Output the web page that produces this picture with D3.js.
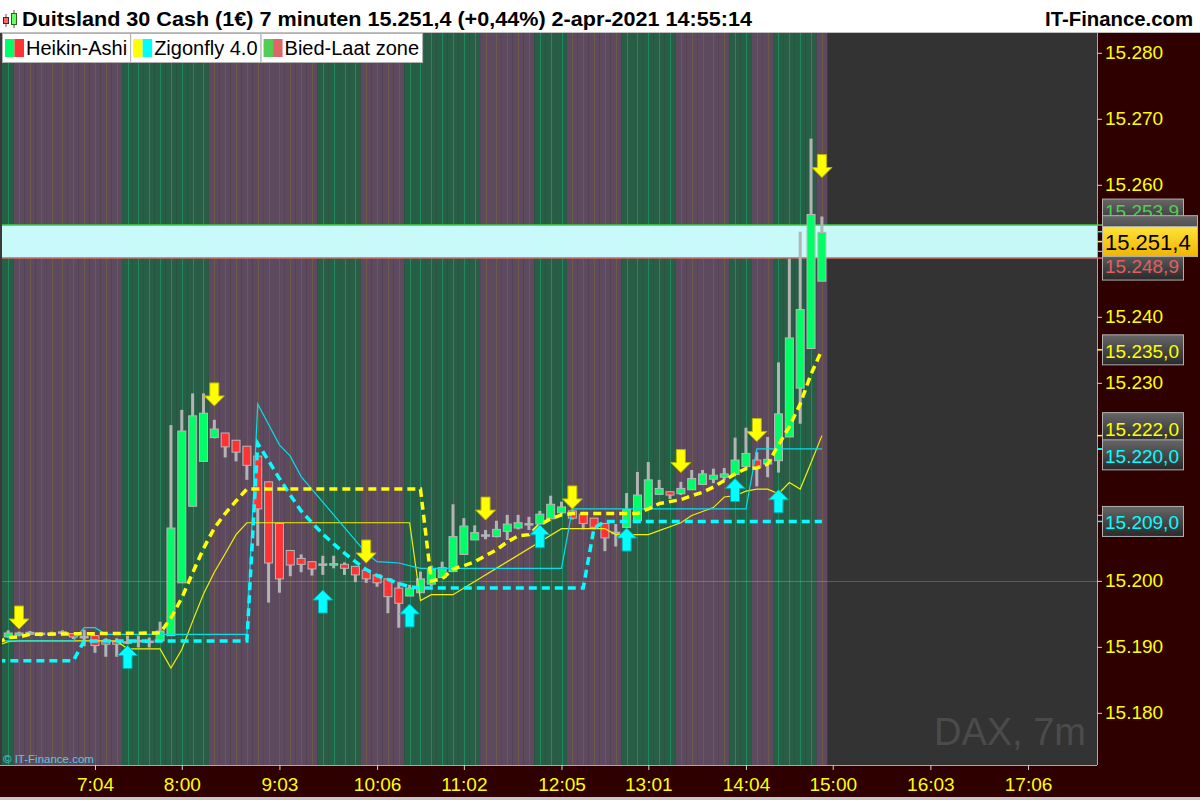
<!DOCTYPE html>
<html><head><meta charset="utf-8">
<script src="https://cdn.jsdelivr.net/npm/d3@7"></script>
<style>html,body{margin:0;padding:0;background:#fff;overflow:hidden}svg{display:block;font-family:"Liberation Sans",Arial,sans-serif}</style>
</head><body><svg id="c" width="1200" height="800"></svg>
<script>
// ---------- DATA ----------
const barTimes = ["6:08","6:15","6:22","6:29","6:36","6:43","6:50","6:57","7:04","7:11","7:18","7:25","7:32","7:39","7:46","7:53",
"8:00","8:07","8:14","8:21","8:28","8:35","8:42","8:49","8:56","9:03","9:10","9:17","9:24","9:31","9:38","9:45","9:52","9:59",
"10:06","10:13","10:20","10:27","10:34","10:41","10:48","10:55","11:02","11:09","11:16","11:23","11:30","11:37","11:44","11:51","11:58",
"12:05","12:12","12:19","12:26","12:33","12:40","12:47","12:54","13:01","13:08","13:15","13:22","13:29","13:36","13:43","13:50","13:57",
"14:04","14:11","14:18","14:25","14:32","14:39","14:46","14:53"];
const haOpen = [15191.5,15191.8,15191.9,15192.0,15192.0,15192.2,15192.0,15191.5,15191.7,15190.9,15190.8,15190.7,15190.9,15190.8,15190.9,15191.7,
15199.7,15211.3,15218.1,15221.7,15222.4,15221.3,15220.4,15218.9,15215.0,15208.7,15204.6,15203.4,15202.9,15202.5,15202.4,15202.5,15202.2,15201.6,
15200.9,15200.3,15198.9,15197.7,15198.2,15199.5,15200.5,15201.4,15204.0,15206.2,15206.9,15206.7,15207.5,15208.0,15208.6,15208.6,15209.4,
15210.3,15210.6,15210.1,15209.5,15208.7,15207.3,15208.1,15209.1,15210.9,15213.1,15213.5,15213.2,15213.8,15214.6,15215.4,15215.7,15216.1,
15217.3,15218.3,15217.7,15218.2,15221.8,15229.2,15235.2,15245.4];
const haHigh = [15192.5,15192.3,15192.4,15192.2,15192.3,15192.5,15192.1,15192.6,15191.7,15191.3,15191.3,15191.7,15191.7,15191.4,15193.8,15223.6,
15225.9,15228.4,15228.4,15224.4,15222.4,15221.3,15220.4,15218.9,15215.0,15208.7,15204.6,15204.0,15202.9,15203.8,15203.8,15202.8,15202.2,15201.6,
15200.9,15200.3,15199.8,15199.4,15201.4,15202.3,15202.9,15211.6,15209.5,15208.4,15207.7,15209.1,15210.0,15210.0,15209.7,15210.6,15212.9,
15212.0,15210.8,15210.1,15209.5,15208.7,15208.6,15213.3,15216.5,15218.0,15215.3,15213.5,15215.0,15216.8,15216.8,15217.0,15217.1,15221.7,
15223.2,15219.5,15221.8,15233.1,15248.8,15252.9,15267.0,15255.2];
const haLow = [15191.4,15191.6,15191.8,15191.6,15191.8,15191.9,15191.2,15190.1,15189.1,15188.5,15188.5,15190.4,15189.9,15189.9,15190.9,15191.7,
15199.7,15211.3,15218.1,15221.6,15218.7,15218.1,15215.3,15205.3,15196.7,15198.2,15200.7,15201.3,15200.8,15200.9,15201.9,15200.9,15199.8,15199.7,
15199.1,15195.1,15192.9,15197.7,15198.2,15199.2,15200.4,15201.4,15204.0,15206.2,15206.3,15206.6,15206.2,15207.8,15207.7,15208.5,15209.4,
15210.1,15209.3,15207.8,15207.8,15204.5,15205.2,15208.1,15209.1,15210.9,15213.1,15212.4,15213.0,15213.8,15214.6,15214.8,15215.2,15216.1,
15217.3,15214.3,15215.7,15216.4,15221.8,15223.8,15235.2,15245.4];
const haClose = [15192.1,15192.1,15192.2,15192.0,15192.0,15192.2,15191.5,15191.5,15190.2,15190.4,15190.4,15190.7,15190.9,15190.8,15192.4,15208.0,
15222.7,15225.0,15225.4,15223.0,15220.3,15219.5,15217.5,15210.9,15202.7,15200.3,15202.4,15202.5,15201.8,15202.5,15202.6,15201.9,15200.9,15200.3,
15199.7,15197.6,15196.6,15198.9,15200.3,15201.8,15202.0,15206.7,15208.3,15207.3,15206.9,15207.8,15208.6,15208.8,15208.6,15210.1,15211.6,
15211.2,15209.5,15208.7,15208.1,15206.5,15207.3,15210.8,15213.0,15215.3,15214.0,15213.0,15214.0,15215.5,15216.2,15216.0,15216.2,15218.3,
15219.3,15217.2,15218.4,15225.3,15236.8,15241.1,15255.5,15252.8];
// Bied-Laat zone per bar: B = green zone, L = purple zone
const zoneType = ["B","L","L","L","L","L","L","L","L","L","L","B","B","B","B","B","B","B","B","L","L","L","L","L","L","L","L","L","L",
"B","B","B","B","L","L","L","L","B","B","B","B","B","B","B","L","L","L","L","L","B","B","B","L","L","L","L","L","B","B","B","B","B",
"L","L","L","L","L","B","B","L","L","B","B","B","B","L"];
// Zigonfly lines [time, price]
const yellowDash = [["6:01",15190.6],["6:08",15191.4],["6:15",15191.5],["6:22",15191.9],["7:46",15192.1],["7:53",15194.4],["8:00",15197.4],
["8:07",15201.2],["8:14",15204.9],["8:21",15208.0],["8:28",15210.2],["8:35",15212.1],["8:42",15213.9],["10:34",15213.9],["10:41",15200.0],
["10:48",15200.3],["10:55",15201.8],["11:02",15202.3],["11:09",15202.9],["11:16",15203.8],["11:23",15204.7],["11:30",15205.9],["11:37",15206.8],
["11:44",15207.0],["11:51",15208.5],["11:58",15209.4],["12:05",15210.0],["12:12",15210.2],["12:54",15210.2],["13:01",15210.9],["13:08",15211.7],
["13:15",15212.0],["13:22",15212.3],["13:29",15212.9],["13:36",15213.4],["13:43",15214.2],["13:50",15215.2],["13:57",15216.2],["14:04",15217.0],
["14:11",15217.1],["14:18",15217.7],["14:25",15220.6],["14:32",15223.4],["14:39",15226.8],["14:46",15231.3],["14:53",15235.0]];
const yellowThin = [["6:01",15190.2],["6:08",15190.8],["6:15",15190.9],["7:18",15190.9],["7:25",15189.7],["7:46",15189.7],["7:53",15186.8],
["8:00",15189.6],["8:07",15193.9],["8:14",15198.0],["8:21",15201.3],["8:28",15204.1],["8:35",15207.0],["8:42",15208.8],["10:27",15208.8],
["10:34",15197.0],["10:41",15197.9],["10:55",15197.9],["12:05",15207.9],["12:33",15207.9],["12:40",15207.0],["13:01",15207.0],["13:08",15207.6],
["13:15",15208.2],["13:22",15208.8],["13:29",15209.9],["13:36",15210.5],["13:43",15211.1],["13:50",15212.7],["13:57",15212.9],["14:04",15213.6],
["14:11",15213.9],["14:18",15213.9],["14:25",15213.2],["14:32",15214.9],["14:39",15213.9],["14:46",15217.9],["14:53",15222.0]];
const cyanDash = [["6:01",15187.9],["6:50",15187.9],["6:57",15190.9],["8:42",15190.9],["8:49",15220.8],["8:56",15218.2],["9:03",15215.5],
["9:10",15213.0],["9:17",15210.6],["9:24",15208.8],["9:31",15207.1],["9:38",15205.6],["9:45",15204.2],["9:52",15202.9],["9:59",15201.7],
["10:06",15200.8],["10:13",15200.2],["10:20",15199.6],["10:27",15199.1],["10:34",15198.9],["12:19",15198.9],["12:26",15208.0],["12:33",15209.0],
["14:53",15209.0]];
const cyanThin = [["6:01",15190.9],["6:50",15190.9],["6:57",15192.9],["7:04",15192.9],["7:11",15191.9],["8:42",15191.9],["8:49",15226.8],
["9:03",15220.6],["9:10",15218.9],["9:17",15215.8],["9:59",15204.2],["10:06",15202.9],["10:20",15202.7],["10:34",15201.9],["12:05",15201.9],
["12:12",15210.9],["14:04",15210.9],["14:11",15220.0],["14:53",15220.0]];
const downArrowTimes = ["6:15","8:21","9:59","11:16","12:12","13:22","14:11","14:53"];
const downArrowPrices = [15192.7,15226.5,15202.7,15209.2,15210.9,15216.4,15221.1,15261.1];
const upArrowTimes = ["7:25","9:31","10:27","11:51","12:47","13:57","14:25"];
const upArrowPrices = [15190.2,15198.6,15196.5,15208.5,15208.0,15215.5,15213.8];
const bidAskTop = 15253.9, bidAskBottom = 15248.9;
const priceTicks = [15180,15190,15200,15210,15220,15230,15240,15250,15260,15270,15280];
const timeTickLabels = ["7:04","8:00","9:03","10:06","11:02","12:05","13:01","14:04","15:00","16:03","17:06"];
const tagValues = [15253.9,15252.9,15248.9,15251.4,15235.0,15222.0,15220.0,15209.0];
const tagColors = ["#55cc55","#00ffff","#e06060","#000000","#ffff00","#ffff00","#00ffff","#00ffff"];
const legendNames = ["Heikin-Ashi","Zigonfly 4.0","Bied-Laat zone"];
const legendColors = [["#00ff66","#ff3333"],["#ffff00","#00ffff"],["#55cc55","#dd6666"]];
const titleText = "Duitsland 30 Cash (1€) 7 minuten 15.251,4 (+0,44%) 2-apr-2021 14:55:14";
const siteText = "IT-Finance.com";

// ---------- LAYOUT ----------
const tagShift = [-11,-1,7,0,0,-8,6,0];
const tagWide  = [false,true,false,true,false,false,false,false];
const W=1200,H=800, L=2, R=1097, T=33, B=765;
const svg = d3.select("#c");
const toMin = s => { const p=s.split(":"); return +p[0]*60 + +p[1]; };
const x = d3.scaleLinear().domain([364,1070.5]).range([L,R]);
const y = d3.scaleLinear().domain([15172.1,15283.0]).range([B,T]);
const step = x(toMin("6:15")) - x(toMin("6:08"));
const fmtP = (v,dec) => { const s=v.toFixed(dec).split("."); const i=s[0].slice(0,2)+"."+s[0].slice(2); return dec? i+","+s[1] : i; };

svg.append("rect").attr("width",W).attr("height",H).attr("fill","#ffffff");
const defs = svg.append("defs");
defs.append("clipPath").attr("id","clip").append("rect").attr("x",L).attr("y",T).attr("width",R-L).attr("height",B-T);
const g1 = defs.append("linearGradient").attr("id","tagG").attr("x1",0).attr("x2",0).attr("y1",0).attr("y2",1);
g1.append("stop").attr("offset","0%").attr("stop-color","#666");
g1.append("stop").attr("offset","100%").attr("stop-color","#2a2a2a");
const g2 = defs.append("linearGradient").attr("id","tagY").attr("x1",0).attr("x2",0).attr("y1",0).attr("y2",1);
g2.append("stop").attr("offset","0%").attr("stop-color","#ffe23a");
g2.append("stop").attr("offset","100%").attr("stop-color","#f2b400");

// plot background
const plot = svg.append("g").attr("clip-path","url(#clip)");
plot.append("rect").attr("x",L).attr("y",T).attr("width",R-L).attr("height",B-T).attr("fill","#333333");
plot.selectAll("rect.zone").data(barTimes).join("rect").attr("class","zone")
  .attr("x",(d,i)=> i===0 ? L : x(toMin(d))-step/2).attr("y",T)
  .attr("width",(d,i)=> i===0 ? x(toMin(d))+step/2-L : step).attr("height",B-T)
  .attr("fill",(d,i)=> zoneType[i]==="B" ? "#285e46" : "#5d4a5f");
plot.selectAll("line.vl").data(barTimes).join("line").attr("class","vl")
  .attr("x1",d=>Math.round(x(toMin(d)))+0.5).attr("x2",d=>Math.round(x(toMin(d)))+0.5).attr("y1",T).attr("y2",B)
  .attr("stroke",(d,i)=> zoneType[i]==="B" ? "#22885e" : "#6e5a48").attr("stroke-width",1);
// 15.200 faint line
plot.append("line").attr("x1",L).attr("x2",R).attr("y1",Math.round(y(15200))+0.5).attr("y2",Math.round(y(15200))+0.5)
  .attr("stroke","rgba(200,200,200,0.28)");
// bid-ask zone
plot.append("rect").attr("x",L).attr("width",R-L).attr("y",y(bidAskTop)).attr("height",y(bidAskBottom)-y(bidAskTop))
  .attr("fill","#ccffff").attr("opacity",0.97);
plot.append("line").attr("x1",L).attr("x2",R).attr("y1",y(bidAskTop)).attr("y2",y(bidAskTop)).attr("stroke","#44cc44").attr("stroke-width",1.5);
plot.append("line").attr("x1",L).attr("x2",R).attr("y1",y(bidAskBottom)).attr("y2",y(bidAskBottom)).attr("stroke","#cc6666").attr("stroke-width",1.5);

// candles
const cg = plot.append("g");
barTimes.forEach((t,i)=>{
  const cx = x(toMin(t));
  cg.append("line").attr("x1",cx).attr("x2",cx).attr("y1",y(haHigh[i])).attr("y2",y(haLow[i]))
    .attr("stroke","#b4b4b4").attr("stroke-width",3);
  const o=haOpen[i], c=haClose[i];
  const doji = Math.abs(o-c) < 0.15;
  const top = y(Math.max(o,c)), bot = y(Math.min(o,c));
  if (doji) {
    cg.append("rect").attr("x",cx-4.5).attr("y",top-1).attr("width",9).attr("height",2.5).attr("fill","#b4b4b4");
  } else {
    cg.append("rect").attr("x",cx-4).attr("y",top).attr("width",8).attr("height",Math.max(1.5,bot-top))
      .attr("fill", c>o ? "#00ff66" : "#ff3333").attr("stroke","#b8b8b8").attr("stroke-width",1);
  }
});

// zigonfly lines
const ln = d3.line().x(d=>x(toMin(d[0]))).y(d=>y(d[1]));
plot.append("path").attr("d",ln(yellowThin)).attr("fill","none").attr("stroke","#f0f000").attr("stroke-width",1.2);
plot.append("path").attr("d",ln(cyanThin)).attr("fill","none").attr("stroke","#00e0ea").attr("stroke-width",1.2);
plot.append("path").attr("d",ln(cyanDash)).attr("fill","none").attr("stroke","#00ffff").attr("stroke-width",3.5).attr("stroke-dasharray","8,5");
plot.append("path").attr("d",ln(yellowDash)).attr("fill","none").attr("stroke","#ffff00").attr("stroke-width",3.5).attr("stroke-dasharray","8,5");

// arrows
const downP = "M0,0 L-10,-10 L-4.5,-10 L-4.5,-23 L4.5,-23 L4.5,-10 L10,-10 Z";
const upP = "M0,0 L-10,10 L-4.5,10 L-4.5,23 L4.5,23 L4.5,10 L10,10 Z";
plot.selectAll("path.da").data(downArrowTimes).join("path").attr("class","da")
  .attr("d",downP).attr("transform",(d,i)=>`translate(${x(toMin(d))},${y(downArrowPrices[i])})`)
  .attr("fill","#ffff00").attr("stroke","#b8b800").attr("stroke-width",1);
plot.selectAll("path.ua").data(upArrowTimes).join("path").attr("class","ua")
  .attr("d",upP).attr("transform",(d,i)=>`translate(${x(toMin(d))},${y(upArrowPrices[i])})`)
  .attr("fill","#00ffff").attr("stroke","#00a8b0").attr("stroke-width",1);

// watermark & copyright
svg.append("text").attr("x",1086).attr("y",745).attr("text-anchor","end").attr("font-size",38).attr("fill","#4b4b4b").text("DAX, 7m");
svg.append("text").attr("x",3).attr("y",763).attr("font-size",11.5).attr("fill","#55c8e0").text("© IT-Finance.com");

// frame lines
svg.append("rect").attr("x",0).attr("y",T).attr("width",2).attr("height",B-T).attr("fill","#3a3a3a");

// right axis panel
svg.append("rect").attr("x",R).attr("y",T).attr("width",W-R).attr("height",H-T).attr("fill","#2e0000");
svg.append("rect").attr("x",0).attr("y",B).attr("width",W).attr("height",H-B).attr("fill","#2e0000");
svg.append("line").attr("x1",0).attr("x2",R).attr("y1",B+0.5).attr("y2",B+0.5).attr("stroke","#a8a8a8");
svg.append("line").attr("x1",R+0.5).attr("x2",R+0.5).attr("y1",T).attr("y2",B).attr("stroke","#a8a8a8");
svg.append("rect").attr("x",0).attr("y",797).attr("width",W).attr("height",3).attr("fill","#c8c8c8");

const yAx = svg.append("g").attr("transform",`translate(${R},0)`)
  .call(d3.axisRight(y).tickValues(priceTicks).tickSize(5).tickPadding(3).tickFormat(d=>fmtP(d,0)));
yAx.select(".domain").remove();
yAx.selectAll("line").attr("stroke","#d0d0d0");
yAx.selectAll("text").attr("fill","#ffff00").attr("font-size",19).attr("font-family","Liberation Sans, Arial, sans-serif");

const tickMins = timeTickLabels.map(toMin);
const xAx = svg.append("g").attr("transform",`translate(0,${B})`)
  .call(d3.axisBottom(x).tickValues(tickMins).tickSize(5).tickPadding(8).tickFormat((d,i)=>timeTickLabels[i]));
xAx.select(".domain").remove();
xAx.selectAll("line").attr("stroke","#d0d0d0");
xAx.selectAll("text").attr("fill","#ffff00").attr("font-size",19).attr("font-family","Liberation Sans, Arial, sans-serif");

// price tags
const tg = svg.append("g");
tagValues.forEach((v,i)=>{
  const yy = y(v);
  tg.append("line").attr("x1",R).attr("x2",R+5).attr("y1",yy).attr("y2",yy).attr("stroke", i===3 ? "#ffff00" : tagColors[i]).attr("stroke-width",1.5);
});
tagValues.forEach((v,i)=>{
  const cy = y(v)+tagShift[i];
  const cur = i===3;
  const w = tagWide[i] ? 95 : 81;
  tg.append("rect").attr("x",1102.5).attr("y",cy-15).attr("width",w).attr("height",30)
    .attr("fill", cur ? "url(#tagY)" : "url(#tagG)").attr("stroke","#b0b0b0").attr("stroke-width",1);
  tg.append("text").attr("x",1105).attr("y",cy+ (cur?8:(i===0?4:8))).attr("font-size",cur?22:19)
    .attr("fill",tagColors[i]).text(fmtP(v,1));
});

// header
svg.append("rect").attr("x",0).attr("y",0).attr("width",W).attr("height",T).attr("fill","#ffffff");
svg.append("line").attr("x1",0).attr("x2",W).attr("y1",T-0.5).attr("y2",T-0.5).attr("stroke","#c0c0c0");
svg.append("text").attr("x",22).attr("y",26).attr("font-size",20).attr("font-weight","bold").attr("fill","#000")
  .attr("textLength",730).attr("lengthAdjust","spacingAndGlyphs").text(titleText);
svg.append("text").attr("x",1045).attr("y",26).attr("font-size",20).attr("font-weight","bold").attr("fill","#000")
  .attr("textLength",148).attr("lengthAdjust","spacingAndGlyphs").text(siteText);
// icon
svg.append("line").attr("x1",6).attr("x2",6).attr("y1",14).attr("y2",27).attr("stroke","#555");
svg.append("rect").attr("x",3.5).attr("y",17.5).attr("width",5).attr("height",6).attr("fill","#ff6666").attr("stroke","#333");
svg.append("line").attr("x1",14).attr("x2",14).attr("y1",10).attr("y2",28).attr("stroke","#555");
svg.append("rect").attr("x",11.5).attr("y",13.5).attr("width",5).attr("height",11).attr("fill","#66ff66").attr("stroke","#226622");

// legend
let lx = 2;
legendNames.forEach((n,i)=>{
  const g = svg.append("g");
  const box = g.append("rect").attr("x",lx+0.5).attr("y",T+0.5).attr("height",29).attr("fill","#fff").attr("stroke","#b0b0b0");
  g.append("rect").attr("x",lx+3).attr("y",T+6).attr("width",9.5).attr("height",18).attr("fill",legendColors[i][0]);
  g.append("rect").attr("x",lx+12.5).attr("y",T+6).attr("width",9.5).attr("height",18).attr("fill",legendColors[i][1]);
  const t = g.append("text").attr("x",lx+24).attr("y",T+22).attr("font-size",20).attr("fill","#000").text(n);
  const w = 24 + t.node().getComputedTextLength() + 3;
  box.attr("width",w);
  lx += w;
});
</script></body></html>
